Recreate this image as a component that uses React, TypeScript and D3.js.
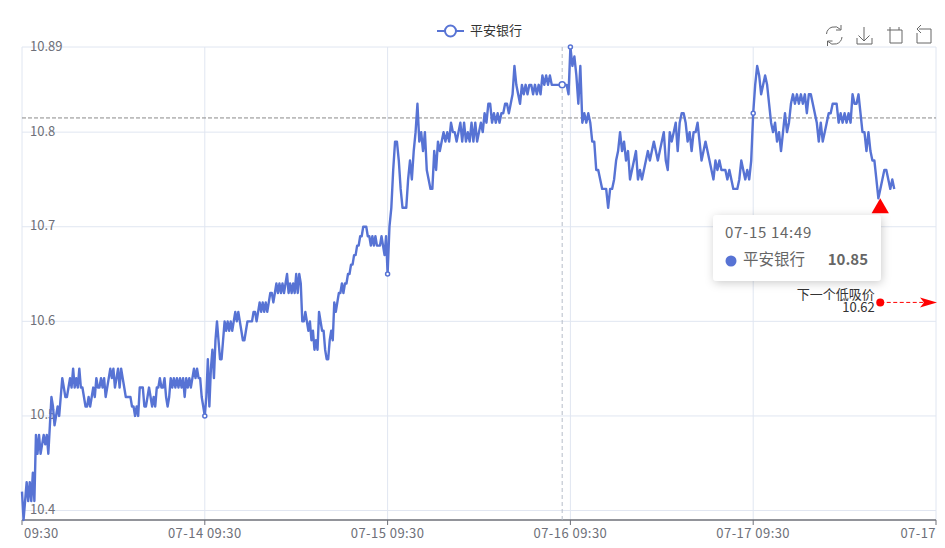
import * as d3 from 'd3';

// prices in hundredths above 10, one list per trading day
const day1 = [
    42, 39, 41, 43, 41, 43, 41, 44, 41, 48, 46, 48, 46, 47, 48, 47, 48, 46, 49, 52, 51, 49, 50, 51, 50, 52, 54,
    53, 52, 52, 53, 54, 53, 55, 53, 54, 53, 55, 53, 53, 52, 51, 51, 52, 51, 52, 53, 52, 54, 53, 53, 54, 53, 54,
    52, 53, 54, 55, 54, 55, 53, 54, 55, 53, 55, 54, 53, 52, 52, 52, 52, 51, 51, 50, 51, 50, 53, 53, 53, 51, 51,
    52, 53, 52, 51, 52, 51, 53, 53, 54, 53, 53, 54, 52, 51, 52, 54, 53, 54, 53, 54, 53, 54, 53, 54, 52, 54, 53,
    54, 53, 54, 55, 54, 55, 54, 54, 52, 51,
];
const day2 = [
    50, 52, 56, 51, 55, 57, 54, 58, 60, 58, 56, 56, 58, 60, 59, 60, 59, 60, 59, 60, 61, 60, 61, 60, 59, 58, 58,
    59, 60, 60, 60, 60, 61, 61, 60, 61, 62, 61, 62, 61, 62, 61, 62, 63, 63, 62, 63, 64, 63, 64, 63, 64, 63, 64,
    65, 63, 64, 63, 64, 63, 65, 63, 65, 64, 60, 60, 61, 60, 59, 60, 58, 59, 57, 58, 57, 61, 60, 59, 59, 57, 56,
    56, 58, 59, 58, 62, 61, 62, 63, 63, 64, 63, 64, 64, 65, 65, 66, 66, 67, 67, 68, 68, 69, 69, 70, 70, 70, 69,
    69, 68, 69, 68, 69, 68, 68, 68, 69, 68, 67, 69,
];
const day3 = [
    65, 70, 72, 76, 79, 79, 77, 74, 72, 72, 72, 75, 77, 75, 78, 80, 83, 79, 80, 78, 80, 76, 75, 74, 74, 78, 76,
    79, 78, 79, 80, 79, 80, 79, 81, 80, 80, 79, 80, 81, 79, 81, 79, 80, 79, 81, 79, 81, 79, 80, 81, 80, 82, 81,
    83, 83, 81, 82, 81, 82, 81, 82, 82, 83, 83, 82, 83, 84, 87, 85, 84, 83, 85, 84, 85, 84, 85, 85, 84, 85, 84,
    85, 84, 86, 85, 86, 85, 86, 85, 85, 85, 85, 85, 85, 85, 85, 85, 84,
];
const day4 = [
    89, 87, 88, 86, 83, 87, 81, 82, 81, 82, 81, 79, 79, 76, 76, 75, 74, 74, 74, 72, 74, 74, 75, 77, 78, 80, 78,
    79, 77, 78, 75, 76, 77, 78, 75, 76, 75, 76, 77, 78, 77, 78, 79, 78, 77, 78, 79, 80, 77, 76, 80, 79, 80, 81,
    78, 81, 82, 82, 81, 79, 80, 78, 80, 80, 81, 79, 77, 78, 79, 78, 77, 76, 75, 77, 76, 77, 76, 76, 76, 75, 76,
    75, 74, 74, 74, 75, 77, 76, 75, 76, 75, 77,
];
const day5 = [
    82, 85, 87, 86, 84, 85, 86, 85, 83, 81, 80, 81, 79, 80, 78, 80, 82, 80, 81, 83, 84, 83, 84, 83, 84, 83, 84,
    82, 84, 84, 83, 82, 81, 79, 81, 79, 80, 81, 82, 82, 83, 83, 83, 81, 82, 81, 82, 81, 82, 81, 84, 83, 83, 84,
    82, 80, 80, 78, 80, 78, 77, 77, 75, 73, 74, 75, 76, 76, 75, 74, 75, 74,
];
const days = [day1, day2, day3, day4, day5];
const samplesPerDay = [day1.length, day2.length, day3.length, day4.length, day4.length];

const seriesName = '平安银行';
const xLabels = ['09:30', '07-14 09:30', '07-15 09:30', '07-16 09:30', '07-17 09:30', '07-17'];
const yTicks = [10.4, 10.5, 10.6, 10.7, 10.8, 10.89];
const averagePrice = 10.815;
const nextLowPrice = 10.62;
const lowPinDay = 4.695;
const lowPinPrice = 10.73;
const hoverDay = 2.955;
const hoverPrice = 10.85;
const hoverTime = '07-15 14:49';

const width = 945;
const height = 548;
const blue = '#5773d4';
const grid = '#E0E6F1';
const axisGrey = '#6E7079';
const font = '"Noto Sans CJK SC", "Noto Sans", sans-serif';

const xScale = d3.scaleLinear().domain([0, 5]).range([22, 936]);
const yScale = d3.scaleLinear().domain([10.39, 10.89]).range([520, 47]);

type Pt = { pos: number; price: number };

const points: Pt[] = days.flatMap((vals, d) =>
    vals.map((v, i) => ({ pos: d + i / samplesPerDay[d], price: 10 + v / 100 })),
);
const dayStarts: Pt[] = days.slice(1).map((vals, d) => ({ pos: d + 1, price: 10 + vals[0] / 100 }));

const line = d3
    .line<Pt>()
    .x((d) => xScale(d.pos))
    .y((d) => yScale(d.price));

const toolIcons = [
    'M826.500 34a8 8 0 0 1 14-4.500M841 25v5h-5M842 37a8 8 0 0 1-14 4.500M827.500 46v-5h5',
    'M864 27v14M858.500 35.500l5.500 5.500 5.500-5.500M857 38v6h15v-6',
    'M890 27v16h12v-13h-15M899 30v-3',
    'M919 29h12v14h-14v-10M921 25l-4 4 4 4',
];

export default function App() {
    const pinX = xScale(lowPinDay);
    const pinY = yScale(lowPinPrice);
    const nextX = xScale(lowPinDay);
    const nextY = yScale(nextLowPrice);
    const hoverX = xScale(hoverDay);
    const [left, right] = xScale.range();
    const [bottom, top] = yScale.range();

    return (
        <svg
            width={width}
            height={height}
            viewBox={`0 0 ${width} ${height}`}
            style={{ position: 'absolute', left: 0, top: 0, background: '#fff', fontFamily: font }}
        >
            <defs>
                <filter id="tip-shadow" x="-20%" y="-30%" width="140%" height="160%">
                    <feDropShadow dx="1" dy="2" stdDeviation="5" floodColor="#000" floodOpacity="0.2" />
                </filter>
            </defs>

            {/* grid */}
            {yTicks.map((t) => (
                <line key={t} x1={left} x2={right} y1={yScale(t)} y2={yScale(t)} stroke={grid} />
            ))}
            {xLabels.map((_, i) => (
                <line key={i} x1={xScale(i)} x2={xScale(i)} y1={top} y2={bottom} stroke={grid} />
            ))}

            {/* y labels sit inside the plot */}
            {yTicks.map((t) => (
                <text key={t} x={30} y={yScale(t) - 1} dy="0.35em" fontSize={13} fill={axisGrey}>
                    {t}
                </text>
            ))}

            {/* x axis */}
            <line x1={left} x2={right} y1={bottom} y2={bottom} stroke={axisGrey} strokeWidth={1.5} />
            {xLabels.map((label, i) => {
                const x = xScale(i);
                const isFirst = i === 0;
                const isLast = i === xLabels.length - 1;
                return (
                    <g key={label}>
                        <line x1={x} x2={x} y1={bottom} y2={bottom + 5} stroke={axisGrey} />
                        <text
                            x={isFirst ? x + 2 : x}
                            y={bottom + 13}
                            dy="0.35em"
                            fontSize={13}
                            letterSpacing={0.45}
                            fill={axisGrey}
                            textAnchor={isFirst ? 'start' : isLast ? 'end' : 'middle'}
                        >
                            {label}
                        </text>
                    </g>
                );
            })}

            {/* mark line and hover crosshair */}
            <line
                x1={left}
                x2={right}
                y1={yScale(averagePrice)}
                y2={yScale(averagePrice)}
                stroke="#8a8a8a"
                strokeDasharray="4 2"
            />
            <line x1={hoverX} x2={hoverX} y1={top} y2={bottom} stroke="#b6bcc8" strokeDasharray="4 3" />

            <path d={line(points) ?? ''} fill="none" stroke={blue} strokeWidth={2.4} strokeLinejoin="round" />

            {dayStarts.map((d) => (
                <circle
                    key={d.pos}
                    cx={xScale(d.pos)}
                    cy={yScale(d.price)}
                    r={2}
                    fill="#fff"
                    stroke={blue}
                    strokeWidth={1.5}
                />
            ))}
            <circle cx={hoverX} cy={yScale(hoverPrice)} r={3} fill="#fff" stroke={blue} strokeWidth={1.5} />

            {/* low pin */}
            <path d={d3.symbol(d3.symbolTriangle, 130)() ?? ''} transform={`translate(${pinX},${pinY + 10})`} fill="#f00" />

            {/* next low price line */}
            <line
                x1={nextX}
                x2={right - 8}
                y1={nextY}
                y2={nextY}
                stroke="#f00"
                strokeDasharray="4 2.500"
            />
            <circle cx={nextX} cy={nextY} r={4} fill="#f00" />
            <path
                d={`M${right + 1} ${nextY}L${right - 16} ${nextY - 5}L${right - 12} ${nextY}L${right - 16} ${nextY + 5}Z`}
                fill="#f00"
            />
            <text x={nextX - 5.500} y={nextY - 8} dy="0.35em" textAnchor="end" fontSize={13} fill="#333">
                下一个低吸价
            </text>
            <text x={nextX - 5.500} y={nextY + 5} dy="0.35em" textAnchor="end" fontSize={13} fill="#333">
                {nextLowPrice}
            </text>

            {/* legend */}
            <line x1={437} x2={464} y1={31} y2={31} stroke={blue} strokeWidth={2} />
            <circle cx={450.500} cy={31} r={5.500} fill="#fff" stroke={blue} strokeWidth={2} />
            <text x={470} y={30} dy="0.35em" fontSize={13} fill="#333">
                {seriesName}
            </text>

            {/* toolbox */}
            {toolIcons.map((d) => (
                <path key={d} d={d} fill="none" stroke="#666" strokeWidth={1} />
            ))}

            {/* tooltip */}
            <g>
                <rect x={713} y={215} width={168} height={66} rx={4} fill="#fff" filter="url(#tip-shadow)" />
                <text x={725} y={233} dy="0.35em" fontSize={15} letterSpacing={0.7} fill="#666">
                    {hoverTime}
                </text>
                <circle cx={731} cy={261} r={5.500} fill={blue} />
                <text x={743} y={260} dy="0.35em" fontSize={15.500} fill="#666">
                    {seriesName}
                </text>
                <text x={868} y={260} dy="0.35em" fontSize={15} fontWeight={700} fill="#666" textAnchor="end">
                    {hoverPrice}
                </text>
            </g>
        </svg>
    );
}
